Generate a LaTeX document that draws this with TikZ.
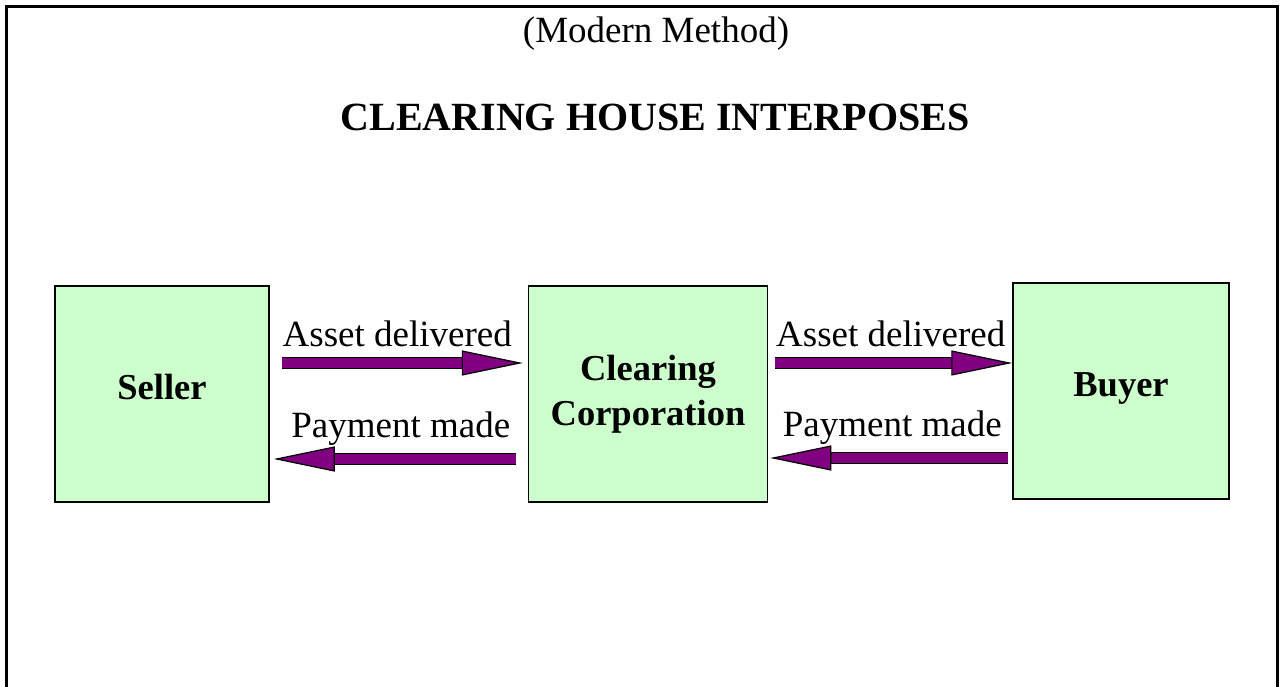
\documentclass[tikz,border=0pt]{standalone}
\usepackage{fontspec}
\setmainfont{Liberation Serif}
\usetikzlibrary{positioning, arrows.meta}
\definecolor{boxgreen}{HTML}{CCFFCC}
\definecolor{flowpurple}{HTML}{800080}

\begin{document}
\begin{tikzpicture}[x=1pt, y=-1pt,
        party/.style={rectangle, draw=black, fill=boxgreen, line width=1.5pt, inner sep=0pt, minimum width=214pt, minimum height=216pt, font=\fontsize{36.5}{45}\selectfont\bfseries, align=center},
        flow/.style={draw=black, line width=1.2pt, double=flowpurple, double distance=9.6pt, -{Triangle[length=61pt, width=25pt, fill=flowpurple]}},
        flowlabel/.style={anchor=base, inner sep=0pt, font=\fontsize{37}{44}\selectfont}]
        \useasboundingbox (0,0) rectangle (1282,687);
        \draw[line width=3pt] (6.5,690) -- (6.5,6.5) -- (1277.5,6.5) -- (1277.5,690);
        \node (subtitle) [anchor=base, font=\fontsize{37}{44}\selectfont] at (656,43) {(Modern Method)};
        \node (title) [anchor=base, font=\fontsize{40}{48}\selectfont\bfseries] at (655,131) {CLEARING HOUSE INTERPOSES};
        \node (seller) [party, text height=18pt, text depth=7pt] at (162,394) {Seller};
        \node (clearing) [party, minimum width=239pt, right=258pt of seller] {Clearing\\Corporation};
        \node (buyer) [party, minimum width=216pt, text height=18pt, text depth=7pt, right=244pt of clearing, yshift=3pt] {Buyer};
        \draw[flow] ([xshift=12pt, yshift=31pt]seller.east) -- node[flowlabel, xshift=-5pt, yshift=17pt] {Asset delivered} ([xshift=-5pt, yshift=31pt]clearing.west);
        \draw[flow] ([xshift=-12pt, yshift=-65pt]clearing.west) -- node[flowlabel, xshift=6pt, yshift=22pt] {Payment made} ([xshift=4pt, yshift=-65pt]seller.east);
        \draw[flow] ([xshift=7pt, yshift=31pt]clearing.east) -- node[flowlabel, xshift=-3pt, yshift=17pt] {Asset delivered} ([yshift=28pt]buyer.west);
        \draw[flow] ([xshift=-4pt, yshift=-67pt]buyer.west) -- node[flowlabel, xshift=3pt, yshift=22pt] {Payment made} ([xshift=2pt, yshift=-64pt]clearing.east);
\end{tikzpicture}
\end{document}
